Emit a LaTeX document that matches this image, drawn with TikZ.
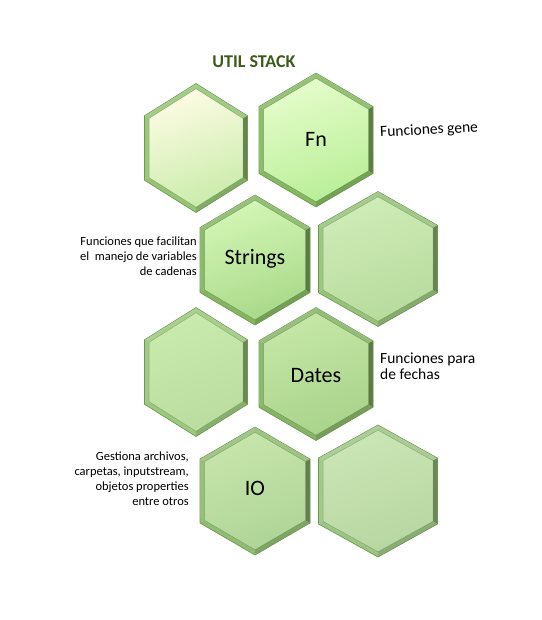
\documentclass[tikz,border=0pt]{standalone}
\usepackage{fontspec}
\setmainfont{Carlito}
\usetikzlibrary{calc}
\begin{document}
\begin{tikzpicture}[x=1pt,y=-1pt,
  title/.style={font=\fontsize{18}{20}\selectfont\bfseries, text=titlegreen},
  cellname/.style={font=\fontsize{22}{24}\selectfont, text=black},
  note/.style={font=\fontsize{12.5}{15}\selectfont, text=black, inner sep=0pt, align=#1},
  bignote/.style={font=\fontsize{15.5}{16}\selectfont, text=black, inner sep=0pt, align=#1},
]
\definecolor{titlegreen}{HTML}{3E5A1C}
\definecolor{rimline}{HTML}{6E9A4E}
\definecolor{shadowgray}{HTML}{5C6E50}

% hexagon cell with bevelled rim:
% #1 center x, #2 center y, #3 half width, #4 half height,
% #5 top fill (hex), #6 bottom fill (hex), #7 rim base colour (hex)
\newcommand{\hexcell}[7]{%
  \definecolor{hextop}{HTML}{#5}%
  \definecolor{hexbot}{HTML}{#6}%
  \definecolor{rimbase}{HTML}{#7}%
  \pgfmathsetmacro{\ia}{#3-4.5}%
  \pgfmathsetmacro{\ib}{#4-5.2}%
  % outer corners
  \coordinate (o1) at (#1,#2-#4);
  \coordinate (o2) at (#1+#3,#2-#4/2);
  \coordinate (o3) at (#1+#3,#2+#4/2);
  \coordinate (o4) at (#1,#2+#4);
  \coordinate (o5) at (#1-#3,#2+#4/2);
  \coordinate (o6) at (#1-#3,#2-#4/2);
  % inner corners
  \coordinate (i1) at (#1,#2-\ib);
  \coordinate (i2) at (#1+\ia,#2-\ib/2);
  \coordinate (i3) at (#1+\ia,#2+\ib/2);
  \coordinate (i4) at (#1,#2+\ib);
  \coordinate (i5) at (#1-\ia,#2+\ib/2);
  \coordinate (i6) at (#1-\ia,#2-\ib/2);
  % soft drop shadow
  \fill[shadowgray, opacity=0.45, shift={(2,1.5)}]
    (o1) -- (o2) -- (o3) -- (o4) -- (o5) -- (o6) -- cycle;
  % face
  \shade[top color=hextop, bottom color=hexbot, shading angle=20]
    (o1) -- (o2) -- (o3) -- (o4) -- (o5) -- (o6) -- cycle;
  % rim facets, lit from the upper left
  \fill[rimbase!85!white] (o6) -- (o1) -- (i1) -- (i6) -- cycle;
  \fill[rimbase!88!white] (o1) -- (o2) -- (i2) -- (i1) -- cycle;
  \fill[rimbase!68!black] (o2) -- (o3) -- (i3) -- (i2) -- cycle;
  \fill[rimbase!88!black] (o3) -- (o4) -- (i4) -- (i3) -- cycle;
  \fill[rimbase] (o4) -- (o5) -- (i5) -- (i4) -- cycle;
  \fill[rimbase!94!white] (o5) -- (o6) -- (i6) -- (i5) -- cycle;
  % thin highlight along the upper edges and the outer outline
  \draw[white, opacity=0.65, line width=0.8pt]
    ($(o5)!0.06!(o6)$) -- (o6) -- (o1) -- (o2);
  \draw[rimline, line width=0.6pt, line join=miter]
    (o1) -- (o2) -- (o3) -- (o4) -- (o5) -- (o6) -- cycle;
  \draw[rimbase!75!black, line width=0.5pt, opacity=0.6]
    (i1) -- (i2) -- (i3) -- (i4) -- (i5) -- (i6) -- cycle;
}

\useasboundingbox[fill=white] (0,0) rectangle (541,620);

% honeycomb cells
\hexcell{196}{148}{51.5}{64.5}{FFFCE6}{C8EBA8}{94C474}
\hexcell{316}{140}{57}{67}{E6FDCC}{B8EE96}{84B862}
\hexcell{255}{260}{55}{65}{D4F7B6}{A8D888}{84B662}
\hexcell{378}{259}{59.5}{67.5}{D0EDB8}{B6DA9C}{96C27A}
\hexcell{196}{372}{51.5}{64.5}{CAEBAE}{BADC9E}{9AC87E}
\hexcell{316}{374}{57}{66.5}{C6E8A8}{A8D28A}{86B466}
\hexcell{255}{491}{55}{64}{C8E6AC}{AED496}{90BC72}
\hexcell{378}{491}{59.5}{66}{CCE6B6}{B6D6A0}{9CC584}

% titles and cell names
\node[title] (title) at (254,62) {UTIL STACK};
\node[cellname] (fn) at (316,139) {Fn};
\node[cellname] (strings) at (255,259) {Strings};
\node[cellname] (dates) at (316,376) {Dates};
\node[cellname] (io) at (255,488) {IO};

% descriptions
\node[bignote=left, anchor=west, rotate=3] (fnnote) at (380,133) {Funciones gene};
\node[note=right, anchor=east] (stringsnote) at (197,256)
  {Funciones que facilitan\\el\ \ manejo de variables\\de cadenas};
\node[bignote=left, anchor=west] (datesnote) at (380,366) {Funciones para\\de fechas};
\node[note=right, anchor=east] (ionote) at (189,479)
  {Gestiona archivos,\\carpetas, inputstream,\\objetos properties\\entre otros};
\end{tikzpicture}
\end{document}
